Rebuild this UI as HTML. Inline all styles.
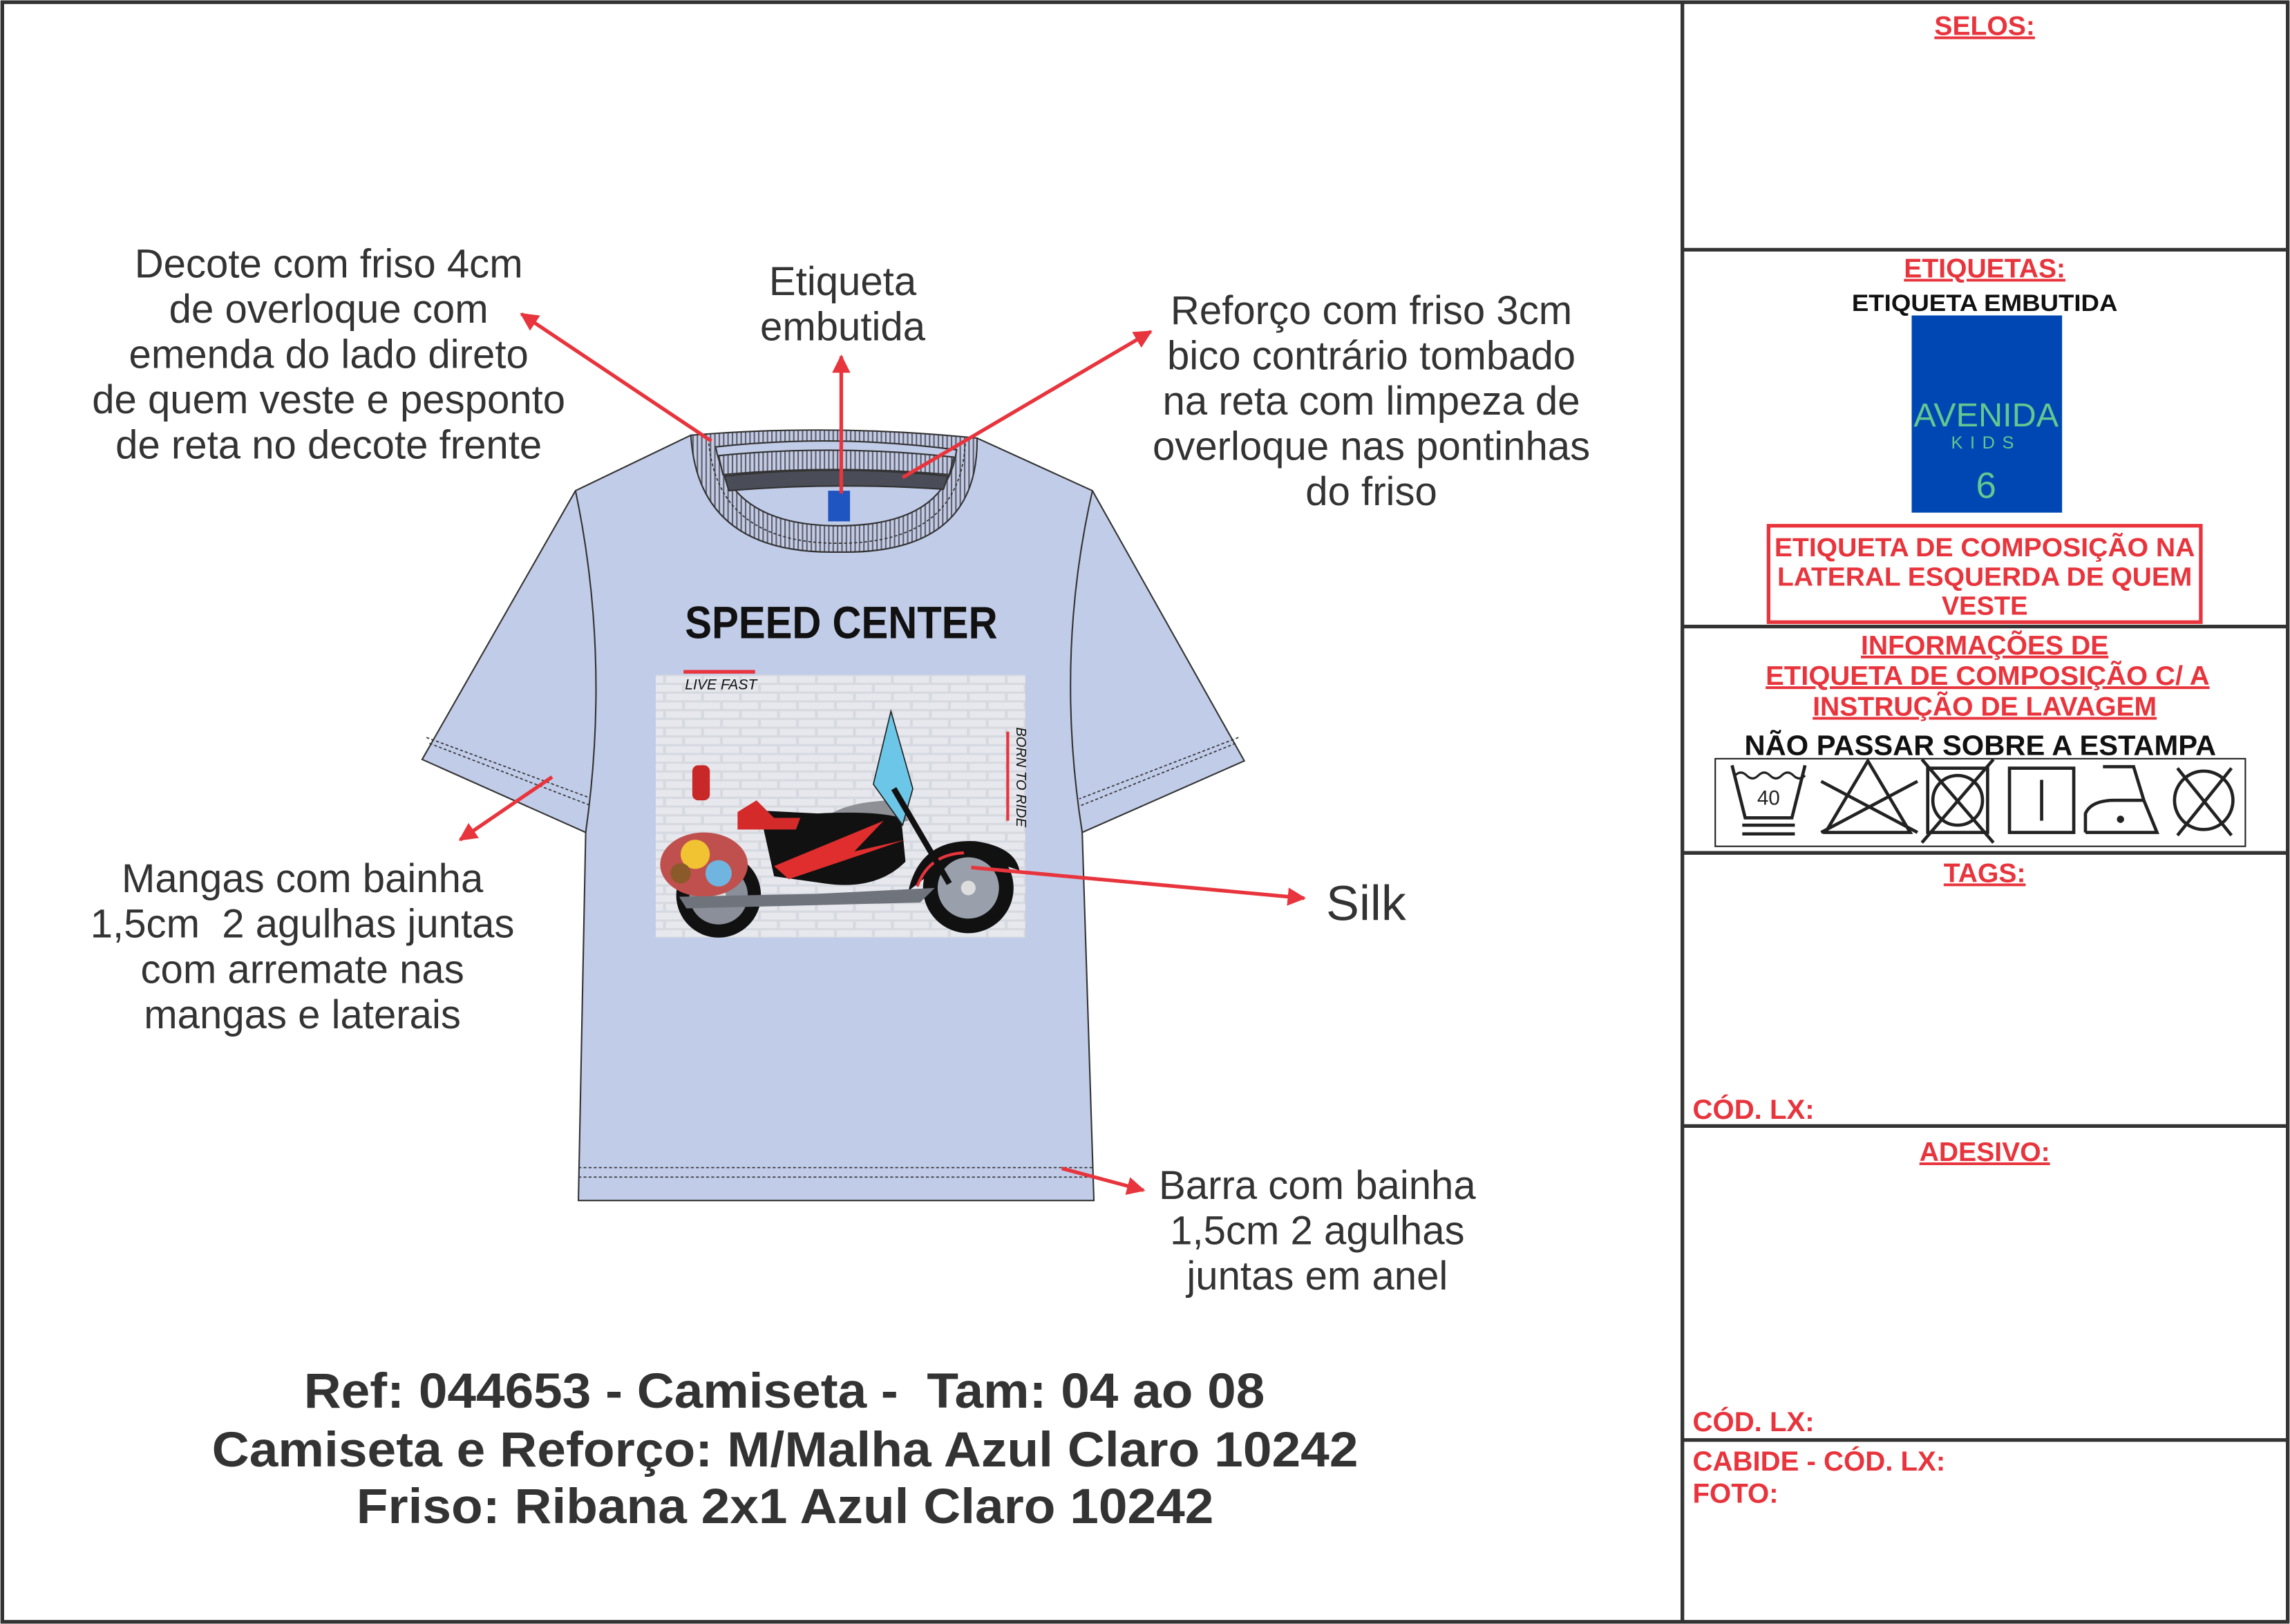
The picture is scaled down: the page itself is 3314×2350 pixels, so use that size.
<!DOCTYPE html>
<html><head><meta charset="utf-8"><style>
html,body{margin:0;padding:0;background:#fff;}
svg{display:block;}
</style></head><body>
<svg xmlns="http://www.w3.org/2000/svg" width="3314" height="2350" viewBox="0 0 1568 1112" font-family="Liberation Sans, Arial, sans-serif">
<defs>
<marker id="ah" viewBox="0 0 10 10" refX="9" refY="5" markerWidth="5" markerHeight="5" orient="auto" markerUnits="strokeWidth">
<path d="M0,0 L10,5 L0,10 Z" fill="#e8343c"/></marker>
<pattern id="rib" width="3" height="3" patternUnits="userSpaceOnUse"><rect width="3" height="3" fill="#c4cbe2"/><rect width="1" height="3" fill="#5a5f70"/></pattern>
<pattern id="brick" width="26" height="12" patternUnits="userSpaceOnUse"><rect width="26" height="12" fill="#d7d9e0"/><rect x="1" y="1" width="24" height="4.5" fill="#e6e8ee"/><rect x="-12" y="7" width="24" height="4.5" fill="#e6e8ee"/><rect x="14" y="7" width="24" height="4.5" fill="#e6e8ee"/></pattern>
</defs>
<rect x="0" y="0" width="1568" height="1112" fill="#fff"/>
<rect x="1.5" y="1.5" width="1565" height="1109" fill="none" stroke="#333" stroke-width="2.5"/>
<line x1="1152" y1="1" x2="1152" y2="1111" stroke="#333" stroke-width="2.5"/>
<g stroke="#333" stroke-width="2.5">
<line x1="1152" y1="171" x2="1567" y2="171"/><line x1="1152" y1="429" x2="1567" y2="429"/>
<line x1="1152" y1="584" x2="1567" y2="584"/><line x1="1152" y1="771" x2="1567" y2="771"/>
<line x1="1152" y1="986" x2="1567" y2="986"/></g>

<!-- right panel text -->
<g fill="#e8343c" font-weight="bold" text-anchor="middle" font-size="18.5" text-decoration="underline">
<text x="1359" y="24">SELOS:</text>
<text x="1359" y="190">ETIQUETAS:</text>
<text x="1359" y="448">INFORMAÇÕES DE</text>
<text x="1361" y="469" textLength="304" lengthAdjust="spacingAndGlyphs">ETIQUETA DE COMPOSIÇÃO C/ A </text>
<text x="1359" y="490">INSTRUÇÃO DE LAVAGEM</text>
<text x="1359" y="604">TAGS:</text>
<text x="1359" y="795">ADESIVO:</text>
</g>
<text x="1359" y="213" fill="#111" font-weight="bold" font-size="16" text-anchor="middle" textLength="182" lengthAdjust="spacingAndGlyphs">ETIQUETA EMBUTIDA</text>
<rect x="1309" y="216" width="103" height="135" fill="#0047b3"/>
<text x="1360" y="292" fill="#62c88f" font-size="23" text-anchor="middle">AVENIDA</text>
<text x="1360" y="307" fill="#62c88f" font-size="12" text-anchor="middle" letter-spacing="5">KIDS</text>
<text x="1360" y="341" fill="#62c88f" font-size="25" text-anchor="middle">6</text>
<rect x="1211" y="360" width="296" height="66" fill="none" stroke="#e8343c" stroke-width="2.5"/>
<g fill="#e8343c" font-weight="bold" text-anchor="middle" font-size="18">
<text x="1359" y="381" textLength="288" lengthAdjust="spacingAndGlyphs">ETIQUETA DE COMPOSIÇÃO NA</text>
<text x="1359" y="401" textLength="284" lengthAdjust="spacingAndGlyphs">LATERAL ESQUERDA DE QUEM</text>
<text x="1359" y="421">VESTE</text></g>
<text x="1356" y="517" fill="#111" font-weight="bold" font-size="19.5" text-anchor="middle" textLength="323" lengthAdjust="spacingAndGlyphs">NÃO PASSAR SOBRE A ESTAMPA</text>
<rect x="1174.5" y="519.5" width="363" height="60" fill="none" stroke="#222" stroke-width="1"/>
<g fill="none" stroke="#222" stroke-width="2.2">
<path d="M1186,524 L1195,560 L1227,560 L1236,524"/>
<path d="M1188,531 q4,-4 8,0 q4,4 8,0 q4,-4 8,0 q4,4 8,0 q4,-4 8,0 q4,4 8,0" stroke-width="1.5"/>
<line x1="1193" y1="565" x2="1229" y2="565"/><line x1="1193" y1="571" x2="1229" y2="571"/>
<path d="M1279,521 L1250,570 L1308,570 Z"/><line x1="1247" y1="535" x2="1313" y2="570"/><line x1="1247" y1="570" x2="1313" y2="535"/>
<rect x="1320" y="526" width="41" height="44"/><circle cx="1340.5" cy="548" r="17"/><line x1="1316" y1="520" x2="1365" y2="577"/><line x1="1316" y1="577" x2="1365" y2="520"/>
<rect x="1376" y="526" width="44" height="44"/><line x1="1398" y1="534" x2="1398" y2="562"/>
<path d="M1428,570 L1428,557 Q1432,548 1448,548 L1468,548 L1461,525 L1440,525 M1468,548 L1477,570 L1428,570"/>
<circle cx="1509" cy="548" r="20"/><line x1="1491" y1="526" x2="1528" y2="572"/><line x1="1491" y1="572" x2="1528" y2="526"/>
</g>
<circle cx="1452" cy="561" r="2.5" fill="#222"/>
<text x="1211" y="551" font-size="14" text-anchor="middle" fill="#222">40</text>
<g fill="#e8343c" font-weight="bold" font-size="19">
<text x="1159" y="766">CÓD. LX:</text>
<text x="1159" y="980">CÓD. LX:</text>
<text x="1159" y="1007">CABIDE - CÓD. LX:</text>
<text x="1159" y="1029">FOTO:</text></g>

<!-- shirt -->
<g stroke="#333" stroke-width="1">
<path d="M473,298 L394,336 L289,520 L401,570 L396,822 L749,822 L741,570 L852,521 L748,336 L669,300 Z" fill="#c1cce8"/>
<path d="M394,336 Q418,450 401,570 M748,336 Q722,450 741,570" fill="none"/>
<path d="M473,298 Q478,380 574,378 Q670,380 669,300 Q571,290 473,298 Z" fill="url(#rib)"/>
<path d="M490,306 Q500,360 574,360 Q648,360 655,308 Q571,297 490,306 Z" fill="#c1cce8"/>
<path d="M492,312 Q571,304 653,313 L650,325 Q571,318 495,325 Z" fill="url(#rib)"/>
<path d="M496,326 Q571,318 649,326 L646,335 Q571,330 499,336 Z" fill="#4a4d57"/>
</g>
<g fill="none" stroke="#333" stroke-width="0.8" stroke-dasharray="2,1.5">
<path d="M485,300 Q490,372 574,372 Q658,372 661,302"/>
<line x1="396" y1="799.5" x2="749" y2="799.5"/><line x1="396" y1="806" x2="749" y2="806"/>
<line x1="292" y1="505" x2="403" y2="546"/><line x1="294" y1="509" x2="403" y2="551"/>
<line x1="848" y1="505" x2="739" y2="547"/><line x1="846" y1="509" x2="739" y2="552"/>
</g>
<rect x="567" y="336" width="15" height="21" fill="#1f55c0"/>
<!-- print -->
<text x="576" y="437" font-size="31" font-weight="bold" text-anchor="middle" fill="#111" textLength="214" lengthAdjust="spacingAndGlyphs" font-family="Liberation Sans Narrow, Liberation Sans, sans-serif">SPEED CENTER</text>
<rect x="449" y="462" width="253" height="180" fill="url(#brick)"/>
<line x1="468" y1="460" x2="517" y2="460" stroke="#e8343c" stroke-width="2.5"/>
<text x="469" y="472" font-size="10" font-style="italic" fill="#111">LIVE FAST</text>
<line x1="690" y1="501" x2="690" y2="562" stroke="#e8343c" stroke-width="2"/>
<text transform="translate(696,498) rotate(90)" font-size="9.5" font-style="italic" fill="#111">BORN TO RIDE</text>
<!-- motorcycle -->
<circle cx="492" cy="613" r="29" fill="#111"/><circle cx="492" cy="613" r="20" fill="#8a8f9a"/><circle cx="492" cy="613" r="5" fill="#ddd"/>
<circle cx="663" cy="608" r="31" fill="#111"/><circle cx="663" cy="608" r="21" fill="#9aa0ab"/><circle cx="663" cy="608" r="5" fill="#ddd"/>
<path d="M622,610 Q630,574 668,576 Q695,580 698,596 L686,592 Q660,580 640,596 Z" fill="#111"/>
<path d="M628,607 Q636,585 660,584" stroke="#e8343c" stroke-width="2" fill="none"/>
<path d="M560,564 Q575,548 615,548 L622,562 L575,572 Z" fill="#8e9096"/>
<path d="M520,555 L560,557 Q600,555 617,560 L620,590 Q600,610 565,605 L530,600 Z" fill="#111"/>
<path d="M530,593 L605,562 L585,583 L620,575 L540,602 Z" fill="#e02e2e"/>
<path d="M505,556 L518,548 L530,560 L548,560 L545,568 L505,568 Z" fill="#d42a2a"/>
<rect x="474" y="524" width="12" height="24" rx="4" fill="#c82828"/>
<path d="M598,537 L610,487 L625,540 L618,565 Z" fill="#6cc6e8" stroke="#222" stroke-width="0.8"/>
<line x1="612" y1="540" x2="650" y2="605" stroke="#111" stroke-width="4"/>
<ellipse cx="482" cy="592" rx="30" ry="22" fill="#c0504d"/>
<circle cx="476" cy="585" r="10" fill="#f1c232"/><circle cx="492" cy="598" r="9" fill="#6fb5e0"/><circle cx="466" cy="598" r="7" fill="#8b5a2b"/>
<path d="M465,614 L560,612 L640,608 L630,618 L470,622 Z" fill="#6f737c"/>

<!-- left labels -->
<g fill="#333" font-size="27.5" text-anchor="middle">
<text x="225" y="190">Decote com friso 4cm</text>
<text x="225" y="221">de overloque com</text>
<text x="225" y="252">emenda do lado direto</text>
<text x="225" y="283">de quem veste e pesponto</text>
<text x="225" y="314">de reta no decote frente</text>
<text x="577" y="202">Etiqueta</text>
<text x="577" y="233">embutida</text>
<text x="939" y="222">Reforço com friso 3cm</text>
<text x="939" y="253">bico contrário tombado</text>
<text x="939" y="284">na reta com limpeza de</text>
<text x="939" y="315">overloque nas pontinhas</text>
<text x="939" y="346">do friso</text>
<text x="207" y="611">Mangas com bainha</text>
<text x="207" y="642" xml:space="preserve">1,5cm  2 agulhas juntas</text>
<text x="207" y="673">com arremate nas</text>
<text x="207" y="704">mangas e laterais</text>
<text x="902" y="821">Barra com bainha</text>
<text x="902" y="852">1,5cm 2 agulhas</text>
<text x="902" y="883">juntas em anel</text>
</g>
<text x="908" y="630" fill="#333" font-size="34">Silk</text>
<g fill="#333" font-size="34" font-weight="bold">
<text x="208" y="964" textLength="658" lengthAdjust="spacingAndGlyphs" xml:space="preserve">Ref: 044653 - Camiseta -  Tam: 04 ao 08</text>
<text x="145" y="1004" textLength="785" lengthAdjust="spacingAndGlyphs">Camiseta e Reforço: M/Malha Azul Claro 10242</text>
<text x="244" y="1043" textLength="587" lengthAdjust="spacingAndGlyphs">Friso: Ribana 2x1 Azul Claro 10242</text>
</g>
<!-- arrows -->
<g stroke="#e8343c" stroke-width="2.5" fill="none" marker-end="url(#ah)">
<line x1="487" y1="302" x2="357" y2="215"/>
<line x1="576" y1="338" x2="576" y2="244"/>
<line x1="618" y1="327" x2="788" y2="227"/>
<line x1="378" y1="532" x2="315" y2="575"/>
<line x1="665" y1="594" x2="893" y2="615"/>
<line x1="727" y1="800" x2="783" y2="815"/>
</g>
</svg>
</body></html>
